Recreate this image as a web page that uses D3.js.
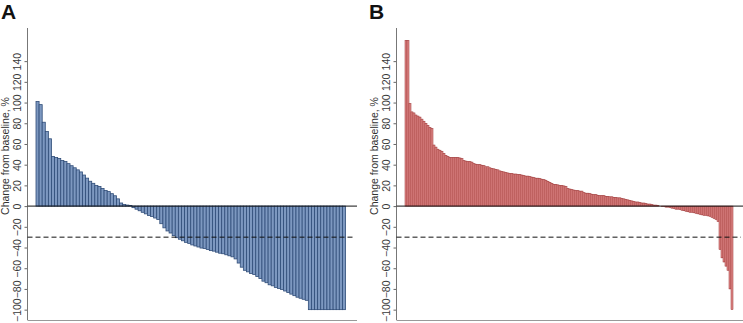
<!DOCTYPE html>
<html><head><meta charset="utf-8">
<script src="https://cdn.jsdelivr.net/npm/d3@7"></script>
<style>
html,body{margin:0;padding:0;background:#fff;}
svg{display:block;font-family:"Liberation Sans",Arial,Helvetica,sans-serif;}
</style></head>
<body>
<svg id="chart" width="743" height="323"></svg>
<script>
// ---- Data ----
const panelLabels = ["A", "B"];
const yTicks = [-100, -80, -60, -40, -20, 0, 20, 40, 60, 80, 100, 120, 140];
const yTitle = "Change from baseline, %";
const thresholdValue = -30;

const valuesA = [
  101, 98, 81, 72, 65, 48, 47, 46, 44, 43, 41, 39, 37, 35, 33, 30, 27, 24, 22, 20,
  19, 17, 15, 14, 12, 10, 7, 3, 1.5, 1, 0.5,
  -1.5, -3, -4.5, -6, -7.5, -9, -10, -11.5, -13, -17, -21, -24, -26, -28.5, -30.5, -32, -33.5, -35, -36,
  -37.5, -38.5, -39.5, -40.5, -41, -42, -43, -43.5, -44.5, -45.5, -46, -47, -48, -49, -51, -55, -59, -62, -63.5, -65,
  -66, -68, -70, -72.5, -74, -76, -77, -78.5, -79.5, -80.5, -82, -83.5, -85, -86.5, -88, -89, -90, -91,
  -100, -100, -100, -100, -100, -100, -100, -100, -100, -100, -100, -100
];

const valuesB = [
  160, 160, 99, 91, 90, 88, 87, 86, 84, 82, 80, 78, 76, 75,
  59, 57, 55, 54, 53, 51, 49, 48,
  47, 47, 47, 47, 47, 46.5, 46,
  44, 43.5, 43, 43, 42.5,
  41, 40.5, 40, 40, 39.5, 39,
  38, 38, 37, 36.5,
  36, 35.5, 35, 34,
  33.5, 33, 32.5, 32, 31.5,
  31.5, 31, 31,
  30.5, 30.5, 30,
  29.5, 29, 29, 28.5, 28,
  27.5, 27, 27, 26.5,
  26, 25.5, 25,
  24, 23, 22,
  21, 21, 20.5, 20, 20, 19.5, 19,
  17, 16.5, 16, 15.5, 15, 15, 14.5, 14.5,
  13, 12.5, 12.5, 12, 11.5, 11, 11,
  10.5, 10, 10, 10, 9.5, 9.5, 9, 9, 8.5, 8.5, 8, 8,
  7.5, 7, 6.5, 6, 5.5, 5,
  4.5, 4, 4, 3.5, 3, 3, 2.5,
  2, 2, 1.5, 1, 1, 0.5,
  0, -0.5, -0.5, -1, -1, -1.5, -2,
  -2.5, -3, -3, -3.5, -4, -4.5, -5,
  -5.5, -6, -6, -6.5, -7, -7.5, -8,
  -8.5, -9, -9, -9.5, -10,
  -11, -12, -13, -15,
  -42, -50, -54, -58, -62, -80, -100
];

const fillA = "#7d98c0", strokeA = "#2f4c78";
const fillB = "#e08d8c", strokeB = "#962a2a";

// ---- Drawing ----
const svg = d3.select("#chart");
const yDomain = [-110, 172];
const yTop = 28, yBottom = 320;

function panel(cfg) {
  const g = svg.append("g");
  const y = d3.scaleLinear().domain(yDomain).range([yBottom, yTop]);
  const x = d3.scaleBand().domain(d3.range(cfg.values.length))
    .range([cfg.barStart, cfg.barEnd]).padding(0);

  g.append("text").attr("x", cfg.letterX).attr("y", 19)
    .attr("font-size", 21).attr("font-weight", "bold").attr("fill", "#111")
    .text(cfg.letter);

  g.append("g").selectAll("rect").data(cfg.values).join("rect")
    .attr("x", (d, i) => x(i))
    .attr("width", x.bandwidth())
    .attr("y", d => y(Math.max(0, d)))
    .attr("height", d => Math.abs(y(d) - y(0)))
    .attr("fill", cfg.fill)
    .attr("stroke", cfg.stroke)
    .attr("stroke-width", cfg.sw);

  const axis = d3.axisLeft(y).tickValues(yTicks).tickSize(3).tickSizeOuter(0)
    .tickFormat(d3.format("d"));
  const ag = g.append("g").attr("transform", `translate(${cfg.axisX},0)`).call(axis);
  ag.select(".domain").remove();
  ag.selectAll(".tick line").attr("stroke", "#666");
  ag.selectAll(".tick text")
    .attr("font-size", 10.5).attr("fill", "#3a3a3a")
    .attr("x", null).attr("dy", null)
    .attr("text-anchor", "middle")
    .attr("transform", `translate(-11,0) rotate(-90)`)
    .attr("dominant-baseline", "central")
    .attr("font-family", "Liberation Sans, Arial, sans-serif");
  g.append("line").attr("x1", cfg.axisX).attr("x2", cfg.axisX)
    .attr("y1", yTop).attr("y2", yBottom).attr("stroke", "#777").attr("stroke-width", 1);

  g.append("line").attr("x1", cfg.axisX).attr("x2", cfg.lineEnd)
    .attr("y1", yBottom + 0.5).attr("y2", yBottom + 0.5).attr("stroke", "#999").attr("stroke-width", 1);

  g.append("line").attr("x1", cfg.axisX).attr("x2", cfg.lineEnd)
    .attr("y1", y(0)).attr("y2", y(0)).attr("stroke", "#111").attr("stroke-width", 1);

  g.append("line").attr("x1", cfg.axisX).attr("x2", cfg.lineEnd - 2)
    .attr("y1", y(thresholdValue)).attr("y2", y(thresholdValue))
    .attr("stroke", "#111").attr("stroke-width", 1).attr("stroke-dasharray", "5,3");

  g.append("text")
    .attr("transform", `translate(${cfg.titleX},156) rotate(-90)`)
    .attr("text-anchor", "middle").attr("dominant-baseline", "central")
    .attr("font-size", 10.5).attr("fill", "#333")
    .text(yTitle);
}

panel({letter: panelLabels[0], letterX: 1, values: valuesA, barStart: 36, barEnd: 345.5,
  axisX: 27.5, lineEnd: 357, titleX: 5, fill: fillA, stroke: strokeA, sw: 0.8});
panel({letter: panelLabels[1], letterX: 369, values: valuesB, barStart: 405, barEnd: 733,
  axisX: 396.5, lineEnd: 743, titleX: 374, fill: fillB, stroke: strokeB, sw: 0.5});
</script>
</body></html>
